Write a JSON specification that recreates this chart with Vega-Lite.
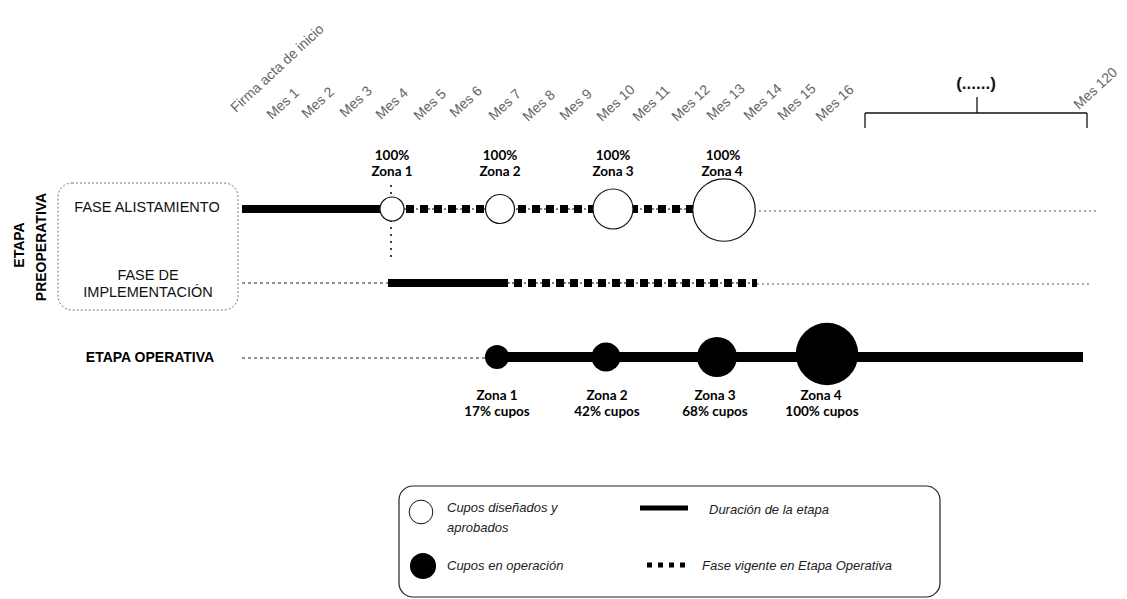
{
  "$schema": "https://vega.github.io/schema/vega-lite/v6.json",
  "width": 1127,
  "height": 599,
  "autosize": {"type": "fit", "contains": "padding"},
  "padding": 0,
  "background": "white",
  "config": {"view": {"stroke": null}},
  "datasets": {
    "cajas": [
      {"x": 58, "x2": 238, "y": 183, "y2": 310, "caja": "preoperativa"},
      {"x": 399, "x2": 940, "y": 486, "y2": 597, "caja": "leyenda"}
    ],
    "segmentos": [
      {"x": 242, "x2": 392, "y": 209, "y2": 209, "estilo": "duracion", "grupo": "fase"},
      {"x": 388, "x2": 500, "y": 283, "y2": 283, "estilo": "duracion", "grupo": "fase"},
      {"x": 497, "x2": 1083, "y": 357, "y2": 357, "estilo": "duracion", "grupo": "operativa"},
      {"x": 392, "x2": 724, "y": 209, "y2": 209, "estilo": "vigente", "grupo": "fase"},
      {"x": 500, "x2": 757, "y": 283, "y2": 283, "estilo": "vigente", "grupo": "fase"},
      {"x": 242, "x2": 388, "y": 283, "y2": 283, "estilo": "pendiente", "grupo": "izquierda"},
      {"x": 242, "x2": 490, "y": 358, "y2": 358, "estilo": "pendiente", "grupo": "izquierda"},
      {"x": 724, "x2": 1097, "y": 211, "y2": 211, "estilo": "pendiente", "grupo": "derecha"},
      {"x": 757, "x2": 1092, "y": 284, "y2": 284, "estilo": "pendiente", "grupo": "derecha"},
      {"x": 391, "x2": 391, "y": 185, "y2": 258, "estilo": "guia", "grupo": "fase"},
      {"x": 865, "x2": 1087, "y": 113, "y2": 113, "estilo": "llave", "grupo": "llave"},
      {"x": 865, "x2": 865, "y": 113, "y2": 128, "estilo": "llave", "grupo": "llave"},
      {"x": 1087, "x2": 1087, "y": 113, "y2": 128, "estilo": "llave", "grupo": "llave"},
      {"x": 977, "x2": 977, "y": 97, "y2": 113, "estilo": "llave", "grupo": "llave"},
      {"x": 640, "x2": 688, "y": 508, "y2": 508, "estilo": "duracion", "grupo": "leyenda"},
      {"x": 647, "x2": 690, "y": 565, "y2": 565, "estilo": "vigente", "grupo": "leyenda"}
    ],
    "circulos": [
      {"x": 392, "y": 209, "zona": "Zona 1", "estado": "disenado"},
      {"x": 500, "y": 209, "zona": "Zona 2", "estado": "disenado"},
      {"x": 613, "y": 209, "zona": "Zona 3", "estado": "disenado"},
      {"x": 724, "y": 210, "zona": "Zona 4", "estado": "disenado"},
      {"x": 497, "y": 357, "zona": "Zona 1", "estado": "operacion"},
      {"x": 606, "y": 357, "zona": "Zona 2", "estado": "operacion"},
      {"x": 717, "y": 357, "zona": "Zona 3", "estado": "operacion"},
      {"x": 827, "y": 354, "zona": "Zona 4", "estado": "operacion"}
    ],
    "leyenda": [
      {"x": 421, "y": 512, "estado": "disenado"},
      {"x": 423, "y": 566, "estado": "operacion"}
    ],
    "textos": [
      {"x": 236, "y": 113, "texto": "Firma acta de inicio", "tipo": "mes"},
      {"x": 272, "y": 120, "texto": "Mes 1", "tipo": "mes"},
      {"x": 307, "y": 119, "texto": "Mes 2", "tipo": "mes"},
      {"x": 345, "y": 118, "texto": "Mes 3", "tipo": "mes"},
      {"x": 381, "y": 120, "texto": "Mes 4", "tipo": "mes"},
      {"x": 419, "y": 121, "texto": "Mes 5", "tipo": "mes"},
      {"x": 455, "y": 118, "texto": "Mes 6", "tipo": "mes"},
      {"x": 494, "y": 121, "texto": "Mes 7", "tipo": "mes"},
      {"x": 528, "y": 122, "texto": "Mes 8", "tipo": "mes"},
      {"x": 565, "y": 121, "texto": "Mes 9", "tipo": "mes"},
      {"x": 602, "y": 122, "texto": "Mes 10", "tipo": "mes"},
      {"x": 638, "y": 122, "texto": "Mes 11", "tipo": "mes"},
      {"x": 677, "y": 122, "texto": "Mes 12", "tipo": "mes"},
      {"x": 712, "y": 121, "texto": "Mes 13", "tipo": "mes"},
      {"x": 749, "y": 121, "texto": "Mes 14", "tipo": "mes"},
      {"x": 783, "y": 121, "texto": "Mes 15", "tipo": "mes"},
      {"x": 821, "y": 122, "texto": "Mes 16", "tipo": "mes"},
      {"x": 1079, "y": 110, "texto": "Mes 120", "tipo": "mes"},
      {"x": 976, "y": 84, "texto": "(......)", "tipo": "llave"},
      {"x": 392, "y": 156, "texto": "100%", "tipo": "zona"},
      {"x": 392, "y": 172, "texto": "Zona 1", "tipo": "zona"},
      {"x": 500, "y": 156, "texto": "100%", "tipo": "zona"},
      {"x": 500, "y": 172, "texto": "Zona 2", "tipo": "zona"},
      {"x": 613, "y": 156, "texto": "100%", "tipo": "zona"},
      {"x": 613, "y": 172, "texto": "Zona 3", "tipo": "zona"},
      {"x": 723, "y": 156, "texto": "100%", "tipo": "zona"},
      {"x": 722, "y": 172, "texto": "Zona 4", "tipo": "zona"},
      {"x": 497, "y": 396, "texto": "Zona 1", "tipo": "zona"},
      {"x": 497, "y": 412, "texto": "17% cupos", "tipo": "zona"},
      {"x": 607, "y": 396, "texto": "Zona 2", "tipo": "zona"},
      {"x": 607, "y": 412, "texto": "42% cupos", "tipo": "zona"},
      {"x": 715, "y": 396, "texto": "Zona 3", "tipo": "zona"},
      {"x": 715, "y": 412, "texto": "68% cupos", "tipo": "zona"},
      {"x": 821, "y": 396, "texto": "Zona 4", "tipo": "zona"},
      {"x": 822, "y": 412, "texto": "100% cupos", "tipo": "zona"},
      {"x": 147, "y": 208, "texto": "FASE ALISTAMIENTO", "tipo": "fase"},
      {"x": 148, "y": 276, "texto": "FASE DE", "tipo": "fase"},
      {"x": 148, "y": 293, "texto": "IMPLEMENTACIÓN", "tipo": "fase"},
      {"x": 150, "y": 358, "texto": "ETAPA OPERATIVA", "tipo": "etapa"},
      {"x": 20, "y": 245, "texto": "ETAPA", "tipo": "vertical"},
      {"x": 42, "y": 247, "texto": "PREOPERATIVA", "tipo": "vertical"},
      {"x": 447, "y": 508, "texto": "Cupos diseñados y", "tipo": "leyenda"},
      {"x": 447, "y": 528, "texto": "aprobados", "tipo": "leyenda"},
      {"x": 447, "y": 566, "texto": "Cupos en operación", "tipo": "leyenda"},
      {"x": 709, "y": 510, "texto": "Duración de la etapa", "tipo": "leyenda"},
      {"x": 702, "y": 566, "texto": "Fase vigente en Etapa Operativa", "tipo": "leyenda"}
    ]
  },
  "encoding": {
    "x": {"field": "x", "type": "quantitative", "axis": null, "scale": {"domain": [0, 1127], "nice": false, "zero": false}},
    "y": {"field": "y", "type": "quantitative", "axis": null, "scale": {"domain": [0, 599], "nice": false, "zero": false, "reverse": true}}
  },
  "layer": [
    {
      "data": {"name": "cajas"},
      "transform": [{"filter": "datum.caja == 'preoperativa'"}],
      "mark": {"type": "rect", "fill": null, "fillOpacity": 0, "stroke": "#777", "strokeWidth": 1, "strokeDash": [2, 2], "cornerRadius": 14},
      "encoding": {"x2": {"field": "x2"}, "y2": {"field": "y2"}}
    },
    {
      "data": {"name": "cajas"},
      "transform": [{"filter": "datum.caja == 'leyenda'"}],
      "mark": {"type": "rect", "fill": null, "fillOpacity": 0, "stroke": "#222", "strokeWidth": 1.2, "cornerRadius": 14},
      "encoding": {"x2": {"field": "x2"}, "y2": {"field": "y2"}}
    },
    {
      "data": {"name": "segmentos"},
      "transform": [{"filter": "datum.estilo == 'pendiente' && datum.grupo == 'izquierda'"}],
      "mark": {"type": "rule", "stroke": "#222", "strokeWidth": 1, "strokeDash": [3, 3]},
      "encoding": {"x2": {"field": "x2"}, "y2": {"field": "y2"}}
    },
    {
      "data": {"name": "segmentos"},
      "transform": [{"filter": "datum.estilo == 'pendiente' && datum.grupo == 'derecha'"}],
      "mark": {"type": "rule", "stroke": "#555", "strokeWidth": 1, "strokeDash": [2, 3]},
      "encoding": {"x2": {"field": "x2"}, "y2": {"field": "y2"}}
    },
    {
      "data": {"name": "segmentos"},
      "transform": [{"filter": "datum.estilo == 'guia'"}],
      "mark": {"type": "rule", "stroke": "#111", "strokeWidth": 1.6, "strokeDash": [2, 5]},
      "encoding": {"x2": {"field": "x2"}, "y2": {"field": "y2"}}
    },
    {
      "data": {"name": "segmentos"},
      "transform": [{"filter": "datum.estilo == 'llave'"}],
      "mark": {"type": "rule", "stroke": "#111", "strokeWidth": 1.3},
      "encoding": {"x2": {"field": "x2"}, "y2": {"field": "y2"}}
    },
    {
      "data": {"name": "segmentos"},
      "transform": [{"filter": "datum.estilo == 'duracion' && datum.grupo == 'fase'"}],
      "mark": {"type": "rule", "stroke": "#000", "strokeWidth": 8, "strokeCap": "butt"},
      "encoding": {"x2": {"field": "x2"}, "y2": {"field": "y2"}}
    },
    {
      "data": {"name": "segmentos"},
      "transform": [{"filter": "datum.estilo == 'duracion' && datum.grupo == 'operativa'"}],
      "mark": {"type": "rule", "stroke": "#000", "strokeWidth": 10, "strokeCap": "butt"},
      "encoding": {"x2": {"field": "x2"}, "y2": {"field": "y2"}}
    },
    {
      "data": {"name": "segmentos"},
      "transform": [{"filter": "datum.estilo == 'duracion' && datum.grupo == 'leyenda'"}],
      "mark": {"type": "rule", "stroke": "#000", "strokeWidth": 5, "strokeCap": "butt"},
      "encoding": {"x2": {"field": "x2"}, "y2": {"field": "y2"}}
    },
    {
      "data": {"name": "segmentos"},
      "transform": [{"filter": "datum.estilo == 'vigente' && datum.grupo == 'fase'"}],
      "mark": {"type": "rule", "stroke": "#000", "strokeWidth": 1.2, "strokeDash": [2, 2]},
      "encoding": {"x2": {"field": "x2"}, "y2": {"field": "y2"}}
    },
    {
      "data": {"name": "segmentos"},
      "transform": [{"filter": "datum.estilo == 'vigente' && datum.grupo == 'fase'"}],
      "mark": {"type": "rule", "stroke": "#000", "strokeWidth": 8, "strokeDash": [8, 6], "strokeCap": "butt"},
      "encoding": {"x2": {"field": "x2"}, "y2": {"field": "y2"}}
    },
    {
      "data": {"name": "segmentos"},
      "transform": [{"filter": "datum.estilo == 'vigente' && datum.grupo == 'leyenda'"}],
      "mark": {"type": "rule", "stroke": "#000", "strokeWidth": 5, "strokeDash": [5, 6], "strokeCap": "butt"},
      "encoding": {"x2": {"field": "x2"}, "y2": {"field": "y2"}}
    },
    {
      "data": {"name": "circulos"},
      "transform": [{"filter": "datum.estado == 'disenado'"}],
      "mark": {"type": "point", "shape": "circle", "filled": true, "fill": "white", "fillOpacity": 1, "stroke": "#111", "strokeWidth": 1.2, "opacity": 1},
      "encoding": {
        "size": {"field": "zona", "type": "ordinal", "legend": null, "scale": {"type": "ordinal", "domain": ["Zona 1", "Zona 2", "Zona 3", "Zona 4"], "range": [576, 841, 1600, 3900]}}
      }
    },
    {
      "data": {"name": "circulos"},
      "transform": [{"filter": "datum.estado == 'operacion'"}],
      "mark": {"type": "point", "shape": "circle", "filled": true, "fill": "#000", "fillOpacity": 1, "strokeWidth": 0, "opacity": 1},
      "encoding": {
        "size": {"field": "zona", "type": "ordinal", "legend": null, "scale": {"type": "ordinal", "domain": ["Zona 1", "Zona 2", "Zona 3", "Zona 4"], "range": [576, 841, 1600, 3900]}}
      }
    },
    {
      "data": {"name": "leyenda"},
      "transform": [{"filter": "datum.estado == 'disenado'"}],
      "mark": {"type": "point", "shape": "circle", "filled": true, "fill": "white", "stroke": "#111", "strokeWidth": 1, "size": 560, "opacity": 1}
    },
    {
      "data": {"name": "leyenda"},
      "transform": [{"filter": "datum.estado == 'operacion'"}],
      "mark": {"type": "point", "shape": "circle", "filled": true, "fill": "#000", "size": 680, "opacity": 1}
    },
    {
      "data": {"name": "textos"},
      "transform": [{"filter": "datum.tipo == 'mes'"}],
      "mark": {"type": "text", "align": "left", "baseline": "alphabetic", "angle": -43, "font": "Liberation Sans", "fontSize": 14, "fill": "#666"},
      "encoding": {"text": {"field": "texto"}}
    },
    {
      "data": {"name": "textos"},
      "transform": [{"filter": "datum.tipo == 'llave'"}],
      "mark": {"type": "text", "align": "center", "baseline": "middle", "font": "Liberation Sans", "fontSize": 17, "fontWeight": "bold", "fill": "#111"},
      "encoding": {"text": {"field": "texto"}}
    },
    {
      "data": {"name": "textos"},
      "transform": [{"filter": "datum.tipo == 'zona'"}],
      "mark": {"type": "text", "align": "center", "baseline": "middle", "font": "Lato", "fontSize": 13.5, "fontWeight": "bold", "fill": "#000"},
      "encoding": {"text": {"field": "texto"}}
    },
    {
      "data": {"name": "textos"},
      "transform": [{"filter": "datum.tipo == 'fase'"}],
      "mark": {"type": "text", "align": "center", "baseline": "middle", "font": "Liberation Sans", "fontSize": 14.5, "fill": "#111"},
      "encoding": {"text": {"field": "texto"}}
    },
    {
      "data": {"name": "textos"},
      "transform": [{"filter": "datum.tipo == 'etapa'"}],
      "mark": {"type": "text", "align": "center", "baseline": "middle", "font": "Liberation Sans", "fontSize": 14, "fontWeight": "bold", "fill": "#000"},
      "encoding": {"text": {"field": "texto"}}
    },
    {
      "data": {"name": "textos"},
      "transform": [{"filter": "datum.tipo == 'vertical'"}],
      "mark": {"type": "text", "align": "center", "baseline": "middle", "angle": -90, "font": "Liberation Sans", "fontSize": 14, "fontWeight": "bold", "fill": "#000"},
      "encoding": {"text": {"field": "texto"}}
    },
    {
      "data": {"name": "textos"},
      "transform": [{"filter": "datum.tipo == 'leyenda'"}],
      "mark": {"type": "text", "align": "left", "baseline": "middle", "font": "Liberation Sans", "fontSize": 13, "fontStyle": "italic", "fill": "#222"},
      "encoding": {"text": {"field": "texto"}}
    }
  ]
}
